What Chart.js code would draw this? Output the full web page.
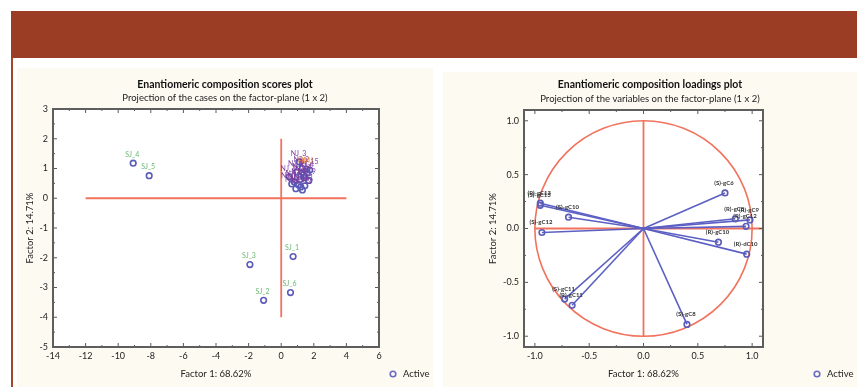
<!DOCTYPE html>
<html>
<head>
<meta charset="utf-8">
<script src="https://cdn.jsdelivr.net/npm/chart.js@4.4.1/dist/chart.umd.min.js"></script>
<style>
  html, body { margin: 0; padding: 0; background: #fff; }
  body { width: 857px; height: 387px; position: relative; overflow: hidden; }
  #band { position: absolute; left: 11px; top: 11px; width: 846px; height: 47px; background: #9b3c25; }
  #rule { position: absolute; left: 11px; top: 58px; width: 1.5px; height: 329px; background: #a4452e; }
  .panel { position: absolute; background: #fcfaf1; }
  #p1 { left: 17px; top: 68px; width: 416px; height: 319px; }
  #p2 { left: 443px; top: 72px; width: 414px; height: 315px; }
  canvas { display: block; }
</style>
</head>
<body>
<div id="band"></div>
<div id="rule"></div>
<div class="panel" id="p1"><canvas id="scores" width="416" height="319"></canvas></div>
<div class="panel" id="p2"><canvas id="loadings" width="414" height="315"></canvas></div>
<script>
// ---- case scores on factors 1 and 2 ----
const caseNames = ['SJ_1', 'SJ_2', 'SJ_3', 'SJ_4', 'SJ_5', 'SJ_6',
  'NJ_1', 'NJ_2', 'NJ_3', 'NJ_4', 'NJ_5', 'NJ_6', 'NJ_7', 'NJ_8', 'NJ_9',
  'NJ_10', 'NJ_11', 'NJ_12', 'NJ_13', 'NJ_14', 'NJ_15', 'NJ_16', 'NJ_17', 'HMJ'];
const caseF1 = [0.73, -1.08, -1.92, -9.08, -8.10, 0.57,
  0.50, 1.30, 1.12, 1.60, 0.95, 1.40, 0.80, 1.15, 1.70,
  1.05, 1.45, 0.90, 1.30, 1.35, 1.75, 1.20, 0.65, 1.55];
const caseF2 = [-1.96, -3.43, -2.23, 1.18, 0.76, -3.17,
  0.72, 1.00, 1.22, 0.85, 0.88, 0.70, 0.55, 0.62, 0.60,
  0.45, 0.42, 0.32, 0.28, 0.78, 0.95, 0.38, 0.48, 0.98];
const caseGroup = ['SJ', 'SJ', 'SJ', 'SJ', 'SJ', 'SJ',
  'NJ', 'NJ', 'NJ', 'NJ', 'NJ', 'NJ', 'NJ', 'NJ', 'NJ',
  'NJ', 'NJ', 'NJ', 'NJ', 'NJ', 'NJ', 'NJ', 'NJ', 'HMJ'];

// ---- variable loadings on factors 1 and 2 ----
const varNames = ['(S)-gC6', '(R)-gC13', '(S)-gC13', '(S)-gC10', '(S)-gC12', '(R)-gC8', '(R)-gC9',
  '(R)-gC12', '(R)-gC10', '(R)-dC10', '(S)-gC11', '(R)-gC11', '(S)-gC8'];
const varF1 = [0.75, -0.95, -0.95, -0.69, -0.935, 0.845, 0.98, 0.944, 0.69, 0.95, -0.726, -0.657, 0.40];
const varF2 = [0.33, 0.235, 0.215, 0.105, -0.037, 0.09, 0.08, 0.02, -0.127, -0.238, -0.655, -0.713, -0.89];

// ---- axis ticks and reference-line spans ----
const scoreXTicks = [-14, -12, -10, -8, -6, -4, -2, 0, 2, 4, 6];
const scoreYTicks = [-5, -4, -3, -2, -1, 0, 1, 2, 3];
const loadTicks = [-1.0, -0.5, 0.0, 0.5, 1.0];
const scoreZeroF1Span = [-12, 4];   // horizontal line at factor 2 = 0
const scoreZeroF2Span = [-4, 2];    // vertical line at factor 1 = 0
const loadZeroF1Span = [-1, 1.1];
const loadZeroF2Span = [-1, 1];

const FONT = 'Lato';
const RED = '#f1735d';
const MARK = '#5b5bb8';
const groupColour = { SJ: '#6cb874', NJ: '#7b3c9e', HMJ: '#f07a2a' };

function useTicks(list) { return s => { s.ticks = list.map(v => ({ value: v })); }; }

function xAxis(min, max, ticks, fmt) {
  return {
    type: 'linear', position: 'bottom', min, max,
    afterBuildTicks: useTicks(ticks),
    grid: { display: false, drawTicks: false }, border: { display: false },
    ticks: { padding: 4, color: '#222', font: { family: FONT, size: 9 }, maxRotation: 0, autoSkip: false, callback: fmt },
    title: { display: true, text: 'Factor 1: 68.62%', color: '#222', font: { family: FONT, size: 9.5 }, padding: { top: 0, bottom: 7 } },
    afterFit: s => { s.height = 40; }
  };
}
function yAxis(min, max, ticks, fmt, width, titlePad) {
  return {
    type: 'linear', position: 'left', min, max,
    afterBuildTicks: useTicks(ticks),
    grid: { display: false, drawTicks: false }, border: { display: false },
    ticks: { padding: 5, color: '#222', font: { family: FONT, size: 9 }, autoSkip: false, callback: fmt },
    title: { display: true, text: 'Factor 2: 14.71%', color: '#222', font: { family: FONT, size: 9.5 }, padding: { top: titlePad, bottom: 0 } },
    afterFit: s => { s.width = width; }
  };
}
function spacer(width) {
  return { position: 'right', display: true, grid: { display: false, drawTicks: false }, border: { display: false },
    ticks: { display: false }, afterFit: s => { s.width = width; } };
}

// white plot area, frame with inward ticks, unit circle and the "Active" key
const framePlugin = {
  id: 'frame',
  beforeDraw(chart) {
    const { ctx, chartArea: a } = chart;
    ctx.save();
    ctx.fillStyle = '#fff';
    ctx.fillRect(a.left, a.top, a.width, a.height);
    ctx.restore();
  },
  beforeDatasetsDraw(chart, args, o) {
    if (!o.unitCircle) return;
    const { ctx, scales: { x, y } } = chart;
    const cx = x.getPixelForValue(0), cy = y.getPixelForValue(0);
    const rx = x.getPixelForValue(1) - cx, ry = cy - y.getPixelForValue(1);
    ctx.save();
    ctx.beginPath();
    ctx.ellipse(cx, cy, rx, ry, 0, 0, Math.PI * 2);
    ctx.strokeStyle = RED;
    ctx.lineWidth = 1.6;
    ctx.stroke();
    ctx.restore();
  },
  afterDraw(chart, args, o) {
    const { ctx, chartArea: a, scales: { x, y } } = chart;
    ctx.save();
    ctx.strokeStyle = '#5a5a5a';
    ctx.lineWidth = 1;
    const seg = (x1, y1, x2, y2) => { ctx.beginPath(); ctx.moveTo(x1, y1); ctx.lineTo(x2, y2); ctx.stroke(); };
    const xs = x.ticks.map(t => t.value), ys = y.ticks.map(t => t.value);
    xs.forEach((v, i) => {
      const p = x.getPixelForValue(v);
      seg(p, a.top, p, a.top + 4); seg(p, a.bottom, p, a.bottom - 4);
      if (i < xs.length - 1) {
        const m = x.getPixelForValue((v + xs[i + 1]) / 2);
        seg(m, a.top, m, a.top + 2); seg(m, a.bottom, m, a.bottom - 2);
      }
    });
    ys.forEach((v, i) => {
      const p = y.getPixelForValue(v);
      seg(a.left, p, a.left + 4, p); seg(a.right, p, a.right - 4, p);
      if (i < ys.length - 1) {
        const m = y.getPixelForValue((v + ys[i + 1]) / 2);
        seg(a.left, m, a.left + 2, m); seg(a.right, m, a.right - 2, m);
      }
    });
    ctx.lineWidth = 2;
    ctx.strokeStyle = '#5e5e5e';
    ctx.strokeRect(a.left, a.top, a.width, a.height);
    // key
    ctx.beginPath();
    ctx.arc(o.keyX, o.keyY, 2.8, 0, Math.PI * 2);
    ctx.lineWidth = 1.6;
    ctx.strokeStyle = '#6b6bc4';
    ctx.stroke();
    ctx.fillStyle = '#222';
    ctx.font = '9.5px ' + FONT;
    ctx.textAlign = 'left';
    ctx.textBaseline = 'middle';
    ctx.fillText('Active', o.keyX + 10, o.keyY);
    ctx.restore();
  }
};

// text labels just above each labelled point
const markLabels = {
  id: 'markLabels',
  afterDatasetsDraw(chart) {
    const ctx = chart.ctx;
    chart.data.datasets.forEach((ds, i) => {
      if (!ds.pointLabels) return;
      const meta = chart.getDatasetMeta(i);
      ctx.save();
      ctx.font = ds.labelFont;
      ctx.textAlign = 'center';
      ctx.textBaseline = 'middle';
      meta.data.forEach((el, j) => {
        const t = ds.pointLabels[j];
        if (!t) return;
        ctx.fillStyle = Array.isArray(ds.labelColour) ? ds.labelColour[j] : ds.labelColour;
        ctx.fillText(t, el.x - 1, el.y - ds.labelRise);
      });
      ctx.restore();
    });
  }
};

function refLine(spanX, spanY) {
  return {
    type: 'line', showLine: true, data: [{ x: spanX[0], y: spanY[0] }, { x: spanX[1], y: spanY[1] }],
    borderColor: RED, borderWidth: 1.8, pointRadius: 0, order: 5
  };
}

// ---------- scores chart ----------
new Chart(document.getElementById('scores'), {
  type: 'scatter',
  data: {
    datasets: [
      {
        data: caseNames.map((n, i) => ({ x: caseF1[i], y: caseF2[i] })),
        pointRadius: 2.8, pointBorderWidth: 1.6, pointBorderColor: MARK, pointBackgroundColor: 'rgba(0,0,0,0)',
        pointLabels: caseNames, labelColour: caseGroup.map(g => groupColour[g]),
        labelFont: '7px ' + FONT, labelRise: 8.5, order: 1
      },
      refLine(scoreZeroF1Span, [0, 0]),
      refLine([0, 0], scoreZeroF2Span)
    ]
  },
  options: {
    responsive: false, animation: false, events: [],
    layout: { padding: 0 },
    scales: {
      x: xAxis(-14, 6, scoreXTicks),
      y: yAxis(-5, 3, scoreYTicks, undefined, 36, 7.3),
      ySpacer: spacer(54)
    },
    plugins: {
      legend: { display: false }, tooltip: { enabled: false },
      title: { display: true, text: 'Enantiomeric composition scores plot', color: '#111',
        font: { family: FONT, size: 10.5, weight: 'bold' }, padding: { top: 10.7, bottom: 0 } },
      subtitle: { display: true, text: 'Projection of the cases on the factor-plane (1 x 2)', color: '#222',
        font: { family: FONT, size: 9.5 }, padding: { top: 1, bottom: 5.3 } },
      frame: { keyX: 376, keyY: 306 }
    }
  },
  plugins: [framePlugin, markLabels]
});

// ---------- loadings chart ----------
const loadSets = varNames.map((n, i) => ({
  type: 'line', showLine: true,
  data: [{ x: 0, y: 0 }, { x: varF1[i], y: varF2[i] }],
  borderColor: '#5c60c4', borderWidth: 1.6,
  pointRadius: [0, 2.8], pointBorderWidth: 1.6, pointBorderColor: MARK, pointBackgroundColor: 'rgba(0,0,0,0)',
  pointLabels: [null, n], labelColour: '#333', labelFont: 'bold 6px ' + FONT, labelRise: 10, order: 1
}));

new Chart(document.getElementById('loadings'), {
  type: 'scatter',
  data: {
    datasets: loadSets.concat([
      refLine(loadZeroF1Span, [0, 0]),
      refLine([0, 0], loadZeroF2Span)
    ])
  },
  options: {
    responsive: false, animation: false, events: [],
    layout: { padding: 0 },
    scales: {
      x: xAxis(-1.1, 1.1, loadTicks, v => v.toFixed(1)),
      y: yAxis(-1.1, 1.1, loadTicks, v => v.toFixed(1), 81, 44.3),
      ySpacer: spacer(94)
    },
    plugins: {
      legend: { display: false }, tooltip: { enabled: false },
      title: { display: true, text: 'Enantiomeric composition loadings plot', color: '#111',
        font: { family: FONT, size: 10.5, weight: 'bold' }, padding: { top: 6.7, bottom: 0 } },
      subtitle: { display: true, text: 'Projection of the variables on the factor-plane (1 x 2)', color: '#222',
        font: { family: FONT, size: 9.5 }, padding: { top: 1.5, bottom: 5.8 } },
      frame: { unitCircle: true, keyX: 374, keyY: 302 }
    }
  },
  plugins: [framePlugin, markLabels]
});
</script>
</body>
</html>
